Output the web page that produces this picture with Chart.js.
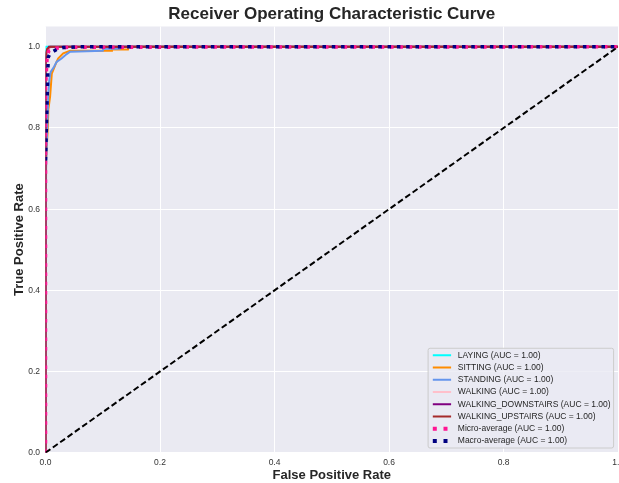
<!DOCTYPE html>
<html>
<head>
<meta charset="utf-8">
<script src="https://cdn.jsdelivr.net/npm/chart.js@4/dist/chart.umd.min.js"></script>
<style>
  html, body { margin: 0; padding: 0; background: #fff; overflow: hidden; }
  #wrap { width: 629px; height: 483px; }
</style>
</head>
<body>
<div id="wrap"><canvas id="rocChart"></canvas></div>
<script>
// ROC points (false positive rate / true positive rate)
const fprLaying = [0, 0, 0.001, 1];
const tprLaying = [0, 0.998, 1, 1];

const fprSitting = [0, 0.001, 0.004, 0.005, 0.008, 0.011, 0.017, 0.022, 0.031, 0.043, 0.115, 0.116, 0.144, 0.145, 1];
const tprSitting = [0, 0.72, 0.80, 0.845, 0.877, 0.934, 0.955, 0.971, 0.984, 0.990, 0.990, 0.9935, 0.9935, 1, 1];

const fprStanding = [0, 0.001, 0.003, 0.005, 0.0066, 0.009, 0.015, 0.0195, 0.028, 0.037, 0.043, 0.10, 0.101, 0.13, 0.131, 1];
const tprStanding = [0, 0.70, 0.80, 0.885, 0.918, 0.938, 0.951, 0.963, 0.971, 0.982, 0.988, 0.990, 0.995, 0.995, 1, 1];

const fprWalking = [0, 0, 0.003, 0.01, 1];
const tprWalking = [0, 0.97, 0.99, 1, 1];

const fprDownstairs = [0, 0, 0.002, 0.006, 1];
const tprDownstairs = [0, 0.96, 0.99, 1, 1];

const fprUpstairs = [0, 0, 0.001, 0.003, 0.008, 1];
const tprUpstairs = [0, 0.95, 0.985, 0.995, 1, 1];

const fprMicro = [0, 0, 0.002, 0.003, 0.006, 0.015, 0.04, 1];
const tprMicro = [0, 0.90, 0.95, 0.98, 0.99, 0.996, 0.999, 1];

const fprMacro = [0, 0.003, 0.004, 0.005, 0.008, 0.0195, 0.031, 0.06, 1];
const tprMacro = [0.72, 0.88, 0.94, 0.975, 0.984, 0.9935, 0.998, 1, 1];

const diagX = [0, 1];
const diagY = [0, 1];

const classLabels = ['LAYING', 'SITTING', 'STANDING', 'WALKING', 'WALKING_DOWNSTAIRS', 'WALKING_UPSTAIRS'];
const aucValues = [1.00, 1.00, 1.00, 1.00, 1.00, 1.00];
const microAuc = 1.00;
const macroAuc = 1.00;

const xTicks = [0, 0.2, 0.4, 0.6, 0.8, 1.0];
const yTicks = [0, 0.2, 0.4, 0.6, 0.8, 1.0];

const FONT = '"Liberation Sans", Arial, sans-serif';

function toPoints(xs, ys) {
    return xs.map((x, i) => ({ x: x, y: ys[i] }));
}

const classColors = ['aqua', '#ff8c00', '#6495ed', '#ffc0cb', '#800080', '#a52a2a'];
const classFpr = [fprLaying, fprSitting, fprStanding, fprWalking, fprDownstairs, fprUpstairs];
const classTpr = [tprLaying, tprSitting, tprStanding, tprWalking, tprDownstairs, tprUpstairs];

// clip: 0 -> cut exactly at the plot edge, so lines lying on x = 0 show only half
const datasets = classLabels.map((name, i) => ({
    label: `${name} (AUC = ${aucValues[i].toFixed(2)})`,
    data: toPoints(classFpr[i], classTpr[i]),
    borderColor: classColors[i],
    borderWidth: 2,
    clip: 0,
    order: 8 - i,
}));

datasets.push({
    label: `Micro-average (AUC = ${microAuc.toFixed(2)})`,
    data: toPoints(fprMicro, tprMicro),
    borderColor: '#ff1493',
    borderWidth: 3.5,
    borderDash: [3.5, 5.8],
    clip: 0,
    order: 2,
});
datasets.push({
    label: `Macro-average (AUC = ${macroAuc.toFixed(2)})`,
    data: toPoints(fprMacro, tprMacro),
    borderColor: '#000080',
    borderWidth: 3.5,
    borderDash: [3.5, 5.8],
    clip: 0,
    order: 1,
});
datasets.push({
    label: 'chance',
    data: toPoints(diagX, diagY),
    borderColor: '#000000',
    borderWidth: 2,
    borderDash: [6, 3],
    clip: 0,
    inLegend: false,
    order: 0,
});

// grey seaborn-style plot background
const plotBackground = {
    id: 'plotBackground',
    beforeDraw(chart) {
        const { ctx, chartArea: a } = chart;
        ctx.save();
        ctx.fillStyle = '#eaeaf2';
        ctx.fillRect(a.left, a.top, a.right - a.left, a.bottom - a.top);
        ctx.restore();
    },
};

// legend drawn inside the plot, lower right
const legendBox = {
    id: 'legendBox',
    afterDraw(chart) {
        const { ctx, chartArea: a } = chart;
        const items = chart.data.datasets.filter(d => d.inLegend !== false);
        const rowH = 12.25;
        ctx.save();
        ctx.font = '8.5px ' + FONT;
        const textW = Math.max(...items.map(d => ctx.measureText(d.label).width));
        const w = 4.7 + 18.3 + 6.7 + textW + 3;
        const h = 14 + (items.length - 1) * rowH;
        const x = a.right - 4.5 - w;
        const y = a.bottom - 4.7 - h;

        ctx.beginPath();
        ctx.roundRect(x, y, w, h, 2);
        ctx.fillStyle = 'rgba(234,234,242,0.8)';
        ctx.fill();
        ctx.strokeStyle = '#cccccc';
        ctx.lineWidth = 1;
        ctx.stroke();

        items.forEach((d, i) => {
            const cy = y + 7 + i * rowH;
            ctx.beginPath();
            ctx.strokeStyle = d.borderColor;
            ctx.lineWidth = d.borderDash ? 4 : 2;
            ctx.setLineDash(d.borderDash ? [4, 6.7] : []);
            ctx.moveTo(x + 4.7, cy);
            ctx.lineTo(x + 23, cy);
            ctx.stroke();
            ctx.setLineDash([]);
            ctx.fillStyle = '#262626';
            ctx.textBaseline = 'middle';
            ctx.fillText(d.label, x + 29.7, cy);
        });
        ctx.restore();
    },
};

new Chart(document.getElementById('rocChart'), {
    type: 'line',
    data: { datasets },
    options: {
        responsive: true,
        maintainAspectRatio: false,
        animation: false,
        layout: { padding: { left: 10, right: 0, top: 0, bottom: 0 } },
        elements: {
            point: { radius: 0 },
            line: { tension: 0, borderCapStyle: 'butt', fill: false },
        },
        plugins: {
            legend: { display: false },
            tooltip: { enabled: false },
            title: {
                display: true,
                fullSize: false,
                text: 'Receiver Operating Characteristic Curve',
                color: '#262626',
                font: { family: FONT, size: 17, weight: 'bold' },
                padding: { top: 4.3, bottom: 1.8 },
            },
        },
        scales: {
            x: {
                type: 'linear',
                min: 0,
                max: 1,
                afterBuildTicks: scale => { scale.ticks = xTicks.map(v => ({ value: v })); },
                afterFit: scale => { scale.height = 30.3; },
                grid: { color: '#ffffff', lineWidth: 1, drawTicks: false },
                border: { display: false },
                ticks: {
                    padding: 5,
                    maxRotation: 0,
                    color: '#333333',
                    font: { family: FONT, size: 8.5 },
                    callback: v => Number(v).toFixed(1),
                },
                title: {
                    display: true,
                    text: 'False Positive Rate',
                    color: '#262626',
                    font: { family: FONT, size: 13, weight: 'bold', lineHeight: 1.1 },
                    padding: { top: 1, bottom: 0 },
                },
            },
            y: {
                type: 'linear',
                min: 0,
                max: 1.05,
                afterBuildTicks: scale => { scale.ticks = yTicks.map(v => ({ value: v })); },
                afterFit: scale => { scale.width = 35.5; },
                grid: { color: '#ffffff', lineWidth: 1, drawTicks: false },
                border: { display: false },
                ticks: {
                    padding: 5.5,
                    color: '#333333',
                    font: { family: FONT, size: 8.5 },
                    callback: v => Number(v).toFixed(1),
                },
                title: {
                    display: true,
                    text: 'True Positive Rate',
                    color: '#262626',
                    font: { family: FONT, size: 13, weight: 'bold', lineHeight: 1.1 },
                    padding: { top: 2, bottom: 2 },
                },
            },
        },
    },
    plugins: [plotBackground, legendBox],
});
</script>
</body>
</html>
